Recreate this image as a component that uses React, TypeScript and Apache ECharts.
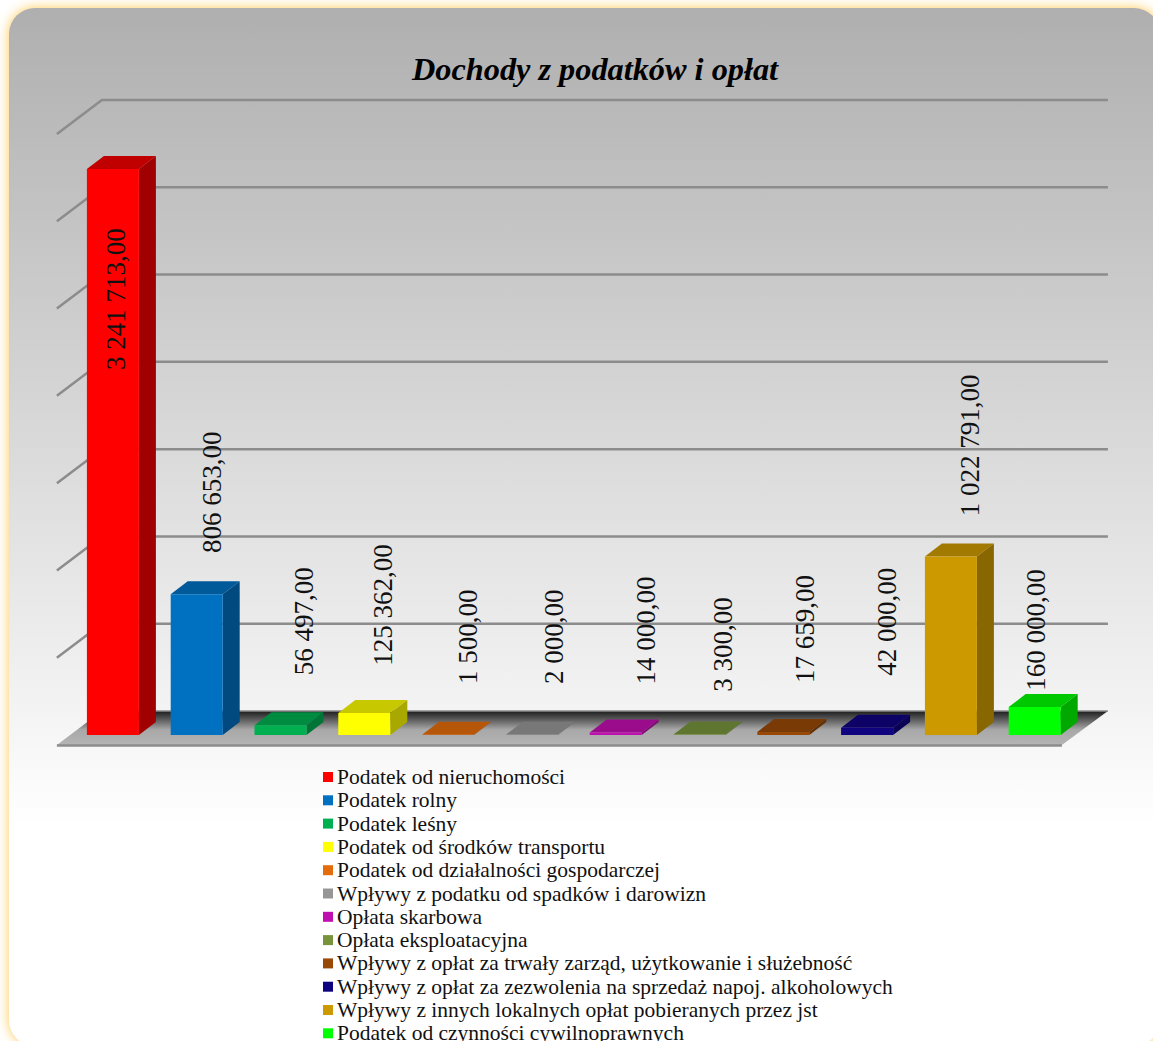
import React, { useEffect, useRef } from "react";
import * as echarts from "echarts";

const categories = [
  "Podatek od nieruchomości",
  "Podatek rolny",
  "Podatek leśny",
  "Podatek od środków transportu",
  "Podatek od działalności gospodarczej",
  "Wpływy z podatku od spadków i darowizn",
  "Opłata skarbowa",
  "Opłata eksploatacyjna",
  "Wpływy z opłat za trwały zarząd, użytkowanie i służebność",
  "Wpływy z opłat za zezwolenia na sprzedaż napoj. alkoholowych",
  "Wpływy z innych lokalnych opłat pobieranych przez jst",
  "Podatek od czynności cywilnoprawnych",
];
const values = [3241713, 806653, 56497, 125362, 1500, 2000, 14000, 3300, 17659, 42000, 1022791, 160000];
const frontColors = ["#FF0000", "#0070C0", "#00B050", "#FFFF00", "#E46C0A", "#969696", "#C00FB0", "#77933C", "#984807", "#10037F", "#CC9900", "#00FF00"];
const topColors = ["#C00000", "#005A9A", "#008C40", "#C8C800", "#B65608", "#787878", "#9A0C8C", "#5F7630", "#7A3A06", "#0D0266", "#A37A00", "#00C800"];
const sideColors = ["#A00000", "#004A80", "#007535", "#A8A800", "#984807", "#646464", "#800A75", "#4F6228", "#652F04", "#0A0255", "#886600", "#00A800"];
const gridValues = [500000, 1000000, 1500000, 2000000, 2500000, 3000000, 3500000];
const labelDx = [3, 15, 23, 19, 20, 22, 30, 23, 22, 20, 19, 1];
const labelDy = [130, -102, -104, -108, -98, -98, -102, -90, -103, -106, -111, -77];

const fmt = (v: number) =>
  String(v).replace(/\B(?=(\d{3})+(?!\d))/g, " ") + ",00";

const DEPTH_X = 17, DEPTH_Y = 13;
const BAR_W = 52;

export default function App() {
  const ref = useRef<HTMLDivElement>(null);
  useEffect(() => {
    document.body.style.margin = "0";
    document.body.style.overflow = "hidden";
    const chart = echarts.init(ref.current!, null, { renderer: "svg" });
    const barSeries = categories.map((name, i) => ({
      type: "custom",
      name,
      z: 5 + i,
      itemStyle: { color: frontColors[i] },
      encode: { x: 0, y: 1 },
      data: [[i, values[i]]],
      renderItem: (_p: any, api: any) => {
        const [cx, ty] = api.coord([api.value(0), api.value(1)]);
        const [, by] = api.coord([api.value(0), 0]);
        const l = cx - BAR_W / 2, r = cx + BAR_W / 2;
        return {
          type: "group",
          children: [
            { type: "polygon", shape: { points: [[l, ty], [r, ty], [r + DEPTH_X, ty - DEPTH_Y], [l + DEPTH_X, ty - DEPTH_Y]] }, style: { fill: topColors[i] } },
            { type: "polygon", shape: { points: [[r, ty], [r + DEPTH_X, ty - DEPTH_Y], [r + DEPTH_X, by - DEPTH_Y], [r, by]] }, style: { fill: sideColors[i] } },
            { type: "rect", shape: { x: l, y: ty, width: BAR_W, height: by - ty }, style: { fill: frontColors[i] } },
          ],
        };
      },
    }));
    const labelSeries = {
      type: "custom",
      name: "labels",
      z: 30,
      encode: { x: 0, y: 1 },
      data: values.map((v, i) => [i, v]),
      renderItem: (p: any, api: any) => {
        const i = p.dataIndex;
        const [cx, ty] = api.coord([api.value(0), api.value(1)]);
        return {
          type: "text",
          x: cx + labelDx[i],
          y: ty + labelDy[i],
          rotation: Math.PI / 2,
          style: {
            text: fmt(values[i]),
            textAlign: "center",
            textVerticalAlign: "middle",
            font: '27px "Liberation Serif"',
            fill: "#111",
          },
        };
      },
    };
    const gridSeries = {
      type: "custom",
      name: "walls",
      z: 2,
      encode: { y: 0 },
      data: gridValues.map((v) => [v]),
      renderItem: (_p: any, api: any) => {
        const [, y] = api.coord([0, api.value(0)]);
        const xl = api.coord([0, 0])[0] - 42 - 14;
        return {
          type: "polyline",
          shape: { points: [[xl, y + 10], [xl + 45, y - 24], [xl + 1051, y - 24]] },
          style: { fill: "none", stroke: "#8C8C8C", lineWidth: 2.5 },
        };
      },
    };
    const floorSeries = {
      type: "custom",
      name: "floor",
      z: 3,
      encode: { y: 0 },
      data: [[0]],
      renderItem: (_p: any, api: any) => {
        const [x0, y0] = api.coord([0, 0]);
        const xl = x0 - 42 - 14;
        return {
          type: "group",
          children: [
            {
              type: "polygon",
              shape: { points: [[xl, y0 + 10], [xl + 1005, y0 + 10], [xl + 1051, y0 - 24], [xl + 45, y0 - 24]] },
              style: {
                fill: new echarts.graphic.LinearGradient(0, 0, 0, 1, [
                  { offset: 0, color: "#1C1C1C" },
                  { offset: 0.55, color: "#A8A8A8" },
                  { offset: 1, color: "#B4B4B4" },
                ]),
              },
            },
            { type: "line", shape: { x1: xl + 45, y1: y0 - 24, x2: xl + 1051, y2: y0 - 24 }, style: { stroke: "#8C8C8C", lineWidth: 1.5 } },
            { type: "line", shape: { x1: xl, y1: y0 + 10.5, x2: xl + 1005, y2: y0 + 10.5 }, style: { stroke: "#8C8C8C", lineWidth: 2.5 } },
          ],
        };
      },
    };
    chart.setOption({
      animation: false,
      title: {
        text: "Dochody z podatków i opłat",
        left: 590,
        top: 48,
        textAlign: "center",
        textStyle: { fontFamily: "Liberation Serif", fontStyle: "italic", fontWeight: "bold", fontSize: 32.3, color: "#000" },
      },
      graphic: [
        {
          type: "rect",
          z: -1,
          shape: { x: 9, y: 8, width: 1151, height: 1038, r: 26 },
          style: {
            fill: new echarts.graphic.LinearGradient(0, 0, 0, 1, [
              { offset: 0, color: "#AFAFAF" },
              { offset: 0.79, color: "#FFFFFF" },
              { offset: 1, color: "#FFFFFF" },
            ]),
            shadowColor: "#FFC850",
            shadowBlur: 12,
          },
        },
      ],
      grid: { left: 71, width: 1005.6, top: 124, height: 611 },
      xAxis: { type: "category", show: false, data: categories.map((_, i) => i) },
      yAxis: { type: "value", show: false, min: 0, max: 3500000, splitLine: { show: false } },
      legend: {
        data: categories,
        orient: "vertical",
        left: 323,
        top: 766,
        height: 400,
        itemWidth: 10,
        itemHeight: 10,
        itemGap: 1.3,
        align: "left",
        icon: "rect",
        selectedMode: false,
        padding: 0,
        textStyle: { fontFamily: "Liberation Serif", fontSize: 21.5, lineHeight: 21, color: "#111", padding: [0, 0, 0, -1] },
      },
      series: [gridSeries, floorSeries, ...barSeries, labelSeries],
    });
    return () => chart.dispose();
  }, []);
  return <div ref={ref} style={{ width: 1153, height: 1041 }} />;
}
